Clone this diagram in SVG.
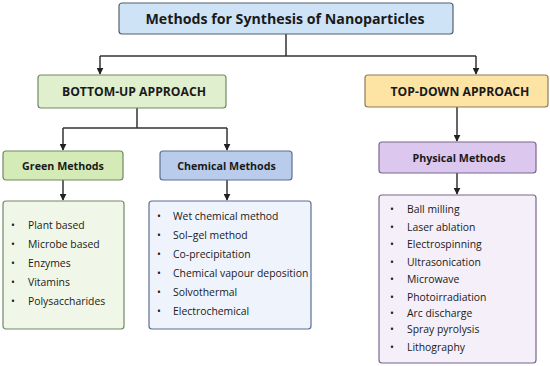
<svg xmlns="http://www.w3.org/2000/svg" width="550" height="366" viewBox="0 0 550 366">
<defs>
<style>
.box{stroke-width:1.2}
.h{font-family:"Open Sans","Noto Sans","DejaVu Sans",sans-serif;font-weight:bold;fill:#1a1a1a;text-anchor:middle}
.cap{font-size:12.2px}
.mix{font-size:10.7px}
.li{font-family:"Open Sans","Noto Sans","DejaVu Sans",sans-serif;font-size:10.4px;fill:#1a1a1a}
.con{fill:none;stroke:#333;stroke-width:1.5}
</style>
<marker id="ah" viewBox="0 0 10 10" refX="9" refY="5" markerWidth="7" markerHeight="7" markerUnits="userSpaceOnUse" orient="auto">
<path d="M0,0 L10,5 L0,10 z" fill="#222"/>
</marker>
</defs>
<rect width="550" height="366" fill="#fff"/>
<g id="connectors">
<path class="con" d="M286,34 V56 M100,56 H476"/>
<path class="con" d="M100,56 V74" marker-end="url(#ah)"/>
<path class="con" d="M476,56 V74" marker-end="url(#ah)"/>
<path class="con" d="M137,108 V128 M63,128 H227"/>
<path class="con" d="M63,128 V150" marker-end="url(#ah)"/>
<path class="con" d="M227,128 V150" marker-end="url(#ah)"/>
<path class="con" d="M63,180 V200" marker-end="url(#ah)"/>
<path class="con" d="M227,180 V200" marker-end="url(#ah)"/>
<path class="con" d="M457,107 V141" marker-end="url(#ah)"/>
<path class="con" d="M457,173 V194" marker-end="url(#ah)"/>
</g>
<g id="title">
<rect class="box" x="119" y="3" width="334" height="31" rx="3" fill="#cfe3f6" stroke="#55606e"/>
<text class="h" x="285" y="24" font-size="14.2">Methods for Synthesis of Nanoparticles</text>
</g>
<g id="bottom-up">
<rect class="box" x="38" y="75" width="188" height="33" rx="3" fill="#e0f0cf" stroke="#6f8a62"/>
<text class="h cap" x="134" y="96">BOTTOM-UP APPROACH</text>
</g>
<g id="top-down">
<rect class="box" x="365" y="75" width="183" height="32" rx="3" fill="#fde3a4" stroke="#8f7d56"/>
<text class="h cap" x="460" y="96">TOP-DOWN APPROACH</text>
</g>
<g id="green-methods">
<rect class="box" x="3" y="151" width="120" height="29" rx="3" fill="#d4eab7" stroke="#6f8a62"/>
<text class="h mix" x="63" y="169.5">Green Methods</text>
</g>
<g id="chemical-methods">
<rect class="box" x="160" y="151" width="132" height="29" rx="3" fill="#b9cceb" stroke="#5c6f92"/>
<text class="h mix" x="226.5" y="169.5">Chemical Methods</text>
</g>
<g id="physical-methods">
<rect class="box" x="379" y="142" width="157" height="31" rx="3" fill="#dcc7ee" stroke="#7a6690"/>
<text class="h mix" x="459" y="161.5">Physical Methods</text>
</g>
<g id="green-list">
<rect class="box" x="3" y="201" width="121" height="128" rx="3" fill="#f1f7e8" stroke="#6f8a62"/>
<text class="li" x="11" y="229">•</text><text class="li" x="28" y="229">Plant based</text>
<text class="li" x="11" y="248">•</text><text class="li" x="28" y="248">Microbe based</text>
<text class="li" x="11" y="267">•</text><text class="li" x="28" y="267">Enzymes</text>
<text class="li" x="11" y="286">•</text><text class="li" x="28" y="286">Vitamins</text>
<text class="li" x="11" y="305">•</text><text class="li" x="28" y="305">Polysaccharides</text>
</g>
<g id="chemical-list">
<rect class="box" x="149" y="201" width="162" height="128" rx="3" fill="#eff3fb" stroke="#5c6f92"/>
<text class="li" x="157" y="220">•</text><text class="li" x="173" y="220">Wet chemical method</text>
<text class="li" x="157" y="239">•</text><text class="li" x="173" y="239">Sol–gel method</text>
<text class="li" x="157" y="258">•</text><text class="li" x="173" y="258">Co-precipitation</text>
<text class="li" x="157" y="277">•</text><text class="li" x="173" y="277">Chemical vapour deposition</text>
<text class="li" x="157" y="296">•</text><text class="li" x="173" y="296">Solvothermal</text>
<text class="li" x="157" y="315">•</text><text class="li" x="173" y="315">Electrochemical</text>
</g>
<g id="physical-list">
<rect class="box" x="379" y="195" width="157" height="168" rx="3" fill="#f4eff9" stroke="#7a6690"/>
<text class="li" x="390" y="213">•</text><text class="li" x="407" y="213">Ball milling</text>
<text class="li" x="390" y="231">•</text><text class="li" x="407" y="231">Laser ablation</text>
<text class="li" x="390" y="248">•</text><text class="li" x="407" y="248">Electrospinning</text>
<text class="li" x="390" y="266">•</text><text class="li" x="407" y="266">Ultrasonication</text>
<text class="li" x="390" y="283">•</text><text class="li" x="407" y="283">Microwave</text>
<text class="li" x="390" y="301">•</text><text class="li" x="407" y="301">Photoirradiation</text>
<text class="li" x="390" y="317">•</text><text class="li" x="407" y="317">Arc discharge</text>
<text class="li" x="390" y="333">•</text><text class="li" x="407" y="333">Spray pyrolysis</text>
<text class="li" x="390" y="351">•</text><text class="li" x="407" y="351">Lithography</text>
</g>
</svg>
